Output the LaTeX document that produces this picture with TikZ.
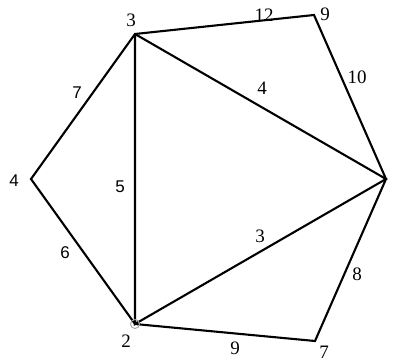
\documentclass[tikz,border=0pt]{standalone}
\usepackage{fontspec}
\setmainfont{Liberation Serif}
\newfontfamily\lsans{Liberation Sans}
\begin{document}
\begin{tikzpicture}[x=1pt,y=-1pt,
  edge/.style={line width=2.1pt,line join=miter},
  lbl/.style={inner sep=0pt,font=\fontsize{19}{19}\selectfont},
  slbl/.style={inner sep=0pt,font=\lsans\fontsize{17}{17}\selectfont}]
\useasboundingbox (0,0) rectangle (395,361);
\coordinate (v3) at (135,34);
\coordinate (v9) at (314,15);
\coordinate (v1) at (386,179);
\coordinate (v7) at (315,341);
\coordinate (v2) at (135,324);
\coordinate (v4) at (31,179);
\draw[edge] (v3) -- (v9) -- (v1) -- (v7) -- (v2) -- (v4) -- cycle;
\draw[edge] (v3) -- (v2) -- (v1) -- (v3);
\draw[gray!70,line width=0.9pt] (v2) circle (4.5);
\node[lbl] (n3) at (131,20) {3};
\node[lbl] (n9) at (325,14) {9};
\node[lbl] (n1) at (398,181) {1};
\node[slbl] (n4) at (14,181) {4};
\node[lbl] (n2) at (126,341) {2};
\node[lbl] (n7) at (324,352) {7};
\node[lbl] (e12) at (264,15) {12};
\node[lbl] (e10) at (357,77) {10};
\node[lbl] (e4) at (262,88) {4};
\node[slbl] (e7) at (77,93) {7};
\node[slbl] (e5) at (120,187) {5};
\node[lbl] (e3) at (260,236) {3};
\node[slbl] (e6) at (65,253) {6};
\node[lbl] (e8) at (357,274) {8};
\node[lbl] (e9) at (235,348) {9};
\end{tikzpicture}
\end{document}
